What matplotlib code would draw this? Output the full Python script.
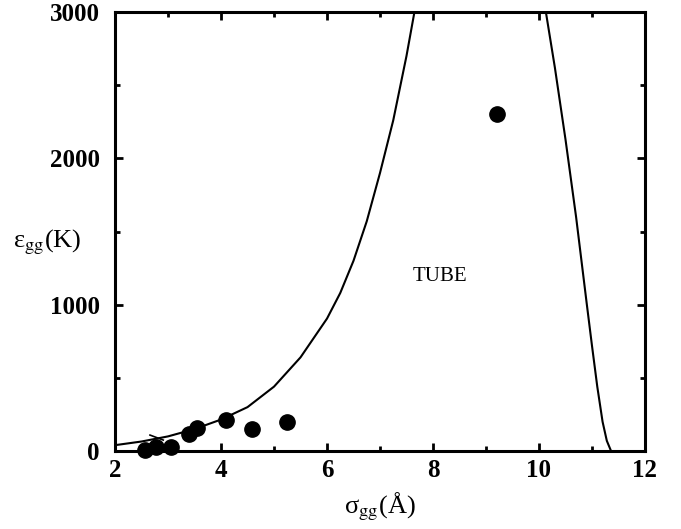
import numpy as np
import matplotlib
matplotlib.use("Agg")
import matplotlib.pyplot as plt
from matplotlib.ticker import MultipleLocator

# --- data ---
# left boundary of the TUBE region
left_x = [2.0, 2.5, 3.0, 3.5, 4.0, 4.5, 5.0, 5.5, 6.0, 6.25, 6.5, 6.75, 7.0, 7.25, 7.5, 7.65]
left_y = [40, 65, 100, 150, 215, 300, 440, 640, 905, 1080, 1300, 1570, 1900, 2260, 2700, 3000]
# right boundary
right_x = [10.13, 10.3, 10.5, 10.7, 10.9, 11.0, 11.1, 11.2, 11.28, 11.36]
right_y = [3000, 2620, 2130, 1600, 1010, 720, 440, 200, 70, 0]
# simulation points
pts_x = [2.57, 2.78, 3.05, 3.40, 3.55, 4.10, 4.58, 5.25, 9.20]
pts_y = [5, 30, 25, 115, 160, 215, 150, 200, 2300]
# small stroke near the origin
stroke_x = [2.66, 2.91]
stroke_y = [109, 75]

plt.rcParams["font.family"] = ["Liberation Serif", "DejaVu Serif"]
plt.rcParams["mathtext.fontset"] = "stix"

fig = plt.figure(figsize=(6.81, 5.29), dpi=100)
ax = fig.add_axes([0.1689, 0.1474, 0.7782, 0.8299])

ax.plot(left_x, left_y, color="black", lw=1.5)
ax.plot(right_x, right_y, color="black", lw=1.5)
ax.plot(stroke_x, stroke_y, color="black", lw=1.2)
ax.plot(pts_x, pts_y, "o", color="black", ms=11, clip_on=False, zorder=3)

ax.text(8.13, 1190, "TUBE", fontsize=15, ha="center", va="center")

ax.set_xlim(2, 12)
ax.set_ylim(0, 3000)
ax.xaxis.set_major_locator(MultipleLocator(2))
ax.xaxis.set_minor_locator(MultipleLocator(1))
ax.yaxis.set_major_locator(MultipleLocator(1000))
ax.yaxis.set_minor_locator(MultipleLocator(500))

for s in ax.spines.values():
    s.set_linewidth(2.2)
ax.tick_params(which="both", direction="in", top=True, right=True, width=2)
ax.tick_params(which="major", length=6)
ax.tick_params(which="minor", length=3.5)
ax.tick_params(axis="x", pad=6)
ax.tick_params(axis="y", pad=11)
for lab in ax.get_xticklabels() + ax.get_yticklabels():
    lab.set_fontweight("bold")
    lab.set_fontsize(18)

ax.set_xlabel(r"σ$_{\mathrm{gg}}$(Å)", fontsize=19, labelpad=6)
ax.set_ylabel(r"ε$_{\mathrm{gg}}$(K)", fontsize=19, rotation=0, ha="center", va="center")
ax.yaxis.set_label_coords(-0.128, 0.475)

fig.savefig("out.png", dpi=100)
